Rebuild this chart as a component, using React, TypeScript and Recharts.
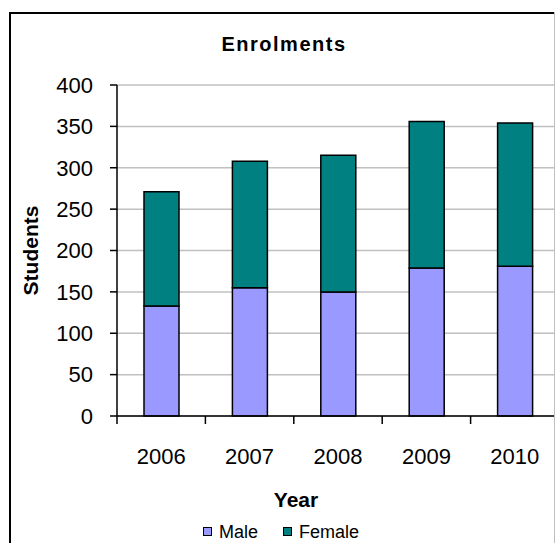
import React from 'react';
import { BarChart, Bar, XAxis, YAxis, CartesianGrid, Legend } from 'recharts';

// Enrolment counts by year
const years = ['2006', '2007', '2008', '2009', '2010'];
const maleStudents = [133, 155, 150, 179, 181];
const femaleStudents = [138, 153, 165, 177, 173];
const yTicks = [0, 50, 100, 150, 200, 250, 300, 350, 400];
const seriesNames = ['Male', 'Female'];
const seriesColors = ['#9999FF', '#008080'];

const data = years.map((year, i) => ({
  year,
  Male: maleStudents[i],
  Female: femaleStudents[i],
}));

const FONT = '"Liberation Sans", Arial, Helvetica, sans-serif';
const CHART_W = 600;
const CHART_H = 543;
const MARGIN = { top: 85, right: 41, bottom: 0, left: 10 };
const Y_AXIS_W = 107;
const X_AXIS_H = 127;
const PLOT_W = CHART_W - MARGIN.left - MARGIN.right - Y_AXIS_W;

// Category tick: label centred in the band, tick mark on the band's left edge
const YearTick = (props: any) => {
  const { x, y, payload } = props;
  const half = PLOT_W / years.length / 2;
  return (
    <g>
      <line x1={x - half} x2={x - half} y1={y} y2={y + 8} stroke="#000" strokeWidth={1.5} />
      <text x={x} y={y + 48} textAnchor="middle" fontSize={22} fill="#000" fontFamily={FONT}>
        {payload.value}
      </text>
    </g>
  );
};

const LegendContent = () => (
  <div style={{ display: 'flex', fontFamily: FONT, fontSize: 18, lineHeight: '18px', color: '#000' }}>
    {seriesNames.map((name, i) => (
      <div key={name} style={{ display: 'flex', alignItems: 'flex-start', width: i === 0 ? 80 : 'auto' }}>
        <span
          style={{
            display: 'inline-block',
            width: 7,
            height: 7,
            marginTop: 4,
            marginRight: 7,
            border: '1.5px solid #000',
            background: seriesColors[i],
          }}
        />
        <span>{name}</span>
      </div>
    ))}
  </div>
);

export default function App() {
  return (
    <div
      style={{
        position: 'absolute',
        left: 0,
        top: 0,
        width: 555,
        height: 543,
        overflow: 'hidden',
        background: '#fff',
      }}
    >
      <div
        style={{
          position: 'absolute',
          left: 9,
          top: 12,
          width: 700,
          height: 700,
          borderLeft: '2px solid #000',
          borderTop: '2px solid #000',
        }}
      />
      <div style={{ position: 'absolute', left: 0, top: 0 }}>
        <BarChart width={CHART_W} height={CHART_H} data={data} margin={MARGIN}>
          <text
            x={284}
            y={51}
            textAnchor="middle"
            fontFamily={FONT}
            fontSize={20}
            fontWeight="bold"
            letterSpacing={1.5}
            fill="#000"
          >
            Enrolments
          </text>
          <CartesianGrid vertical={false} stroke="#c0c0c0" strokeWidth={1.5} />
          <XAxis
            dataKey="year"
            height={X_AXIS_H}
            interval={0}
            tickSize={0}
            tickMargin={0}
            tickLine={false}
            tick={<YearTick />}
            axisLine={{ stroke: '#000', strokeWidth: 1.5 }}
            label={{
              value: 'Year',
              position: 'insideBottom',
              offset: 36,
              dx: -42,
              fill: '#000',
              fontSize: 21,
              fontWeight: 'bold',
              fontFamily: FONT,
            }}
          />
          <YAxis
            width={Y_AXIS_W}
            domain={[0, 400]}
            ticks={yTicks}
            interval={0}
            tickSize={7}
            tickMargin={17}
            tick={{ fill: '#000', fontSize: 22, fontFamily: FONT }}
            tickLine={{ stroke: '#000', strokeWidth: 1.5 }}
            axisLine={{ stroke: '#000', strokeWidth: 1.5 }}
            label={{
              value: 'Students',
              angle: -90,
              position: 'insideLeft',
              offset: 21,
              fill: '#000',
              fontSize: 21,
              fontWeight: 'bold',
              fontFamily: FONT,
              style: { textAnchor: 'middle' },
            }}
          />
          <Legend
            layout="horizontal"
            verticalAlign="middle"
            align="center"
            content={<LegendContent />}
            wrapperStyle={{ left: 203, top: 523, width: 'auto' }}
          />
          <Bar dataKey="Male" stackId="s" fill={seriesColors[0]} stroke="#000" strokeWidth={1.5} barSize={35} isAnimationActive={false} />
          <Bar dataKey="Female" stackId="s" fill={seriesColors[1]} stroke="#000" strokeWidth={1.5} barSize={35} isAnimationActive={false} />
        </BarChart>
      </div>
      <div style={{ position: 'absolute', left: 554, top: 12, width: 1, height: 531, background: '#c0c0c0' }} />
    </div>
  );
}
